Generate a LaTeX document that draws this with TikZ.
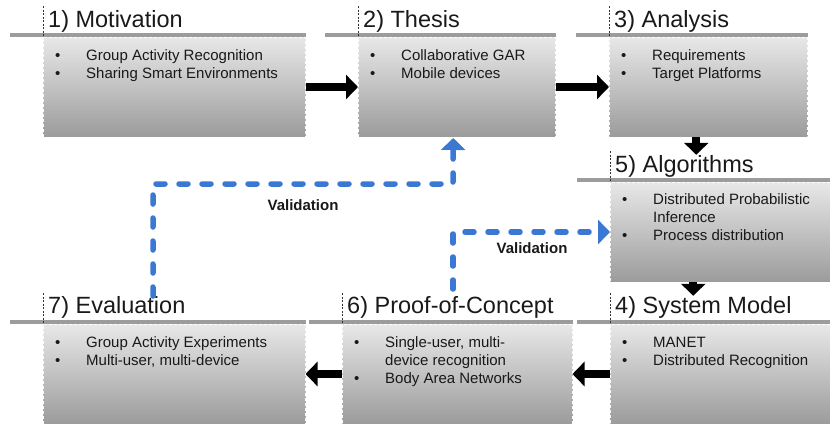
\documentclass[tikz,border=0pt]{standalone}
\usepackage{fontspec}
\setmainfont{Liberation Sans}
\usetikzlibrary{arrows.meta,positioning}
\definecolor{hdrgray}{HTML}{9C9C9C}
\definecolor{valblue}{HTML}{3A78D4}
\newcommand{\titlesize}{\fontsize{23.5}{28}\selectfont}
\newcommand{\listsize}{\fontsize{15}{18}\selectfont}
\newcommand{\blist}[1]{\begin{tabular}[t]{@{}p{31pt}@{}l@{}}#1\end{tabular}}

\begin{document}
\begin{tikzpicture}[x=1pt,y=-1pt,
    stage/.style={anchor=north west, inner sep=0pt, minimum height=99.5pt,
      top color=black!9, bottom color=black!39, draw=white, densely dashed, line width=.5pt},
    heading/.style={anchor=base west, inner sep=0pt, text=black!90, font=\titlesize},
    items/.style={anchor=base west, inner sep=0pt, text=black!90, font=\listsize},
    hdr/.style={hdrgray, line width=4pt},
    tick/.style={black!80, line width=.6pt, dash pattern=on 2pt off 1.5pt},
    blk/.style={black, line width=8pt, -{Triangle[width=24pt,length=12pt]}},
    val/.style={valblue, line width=5.5pt, line cap=round, dash pattern=on 9pt off 14pt,
      -{Triangle[width=24pt,length=12pt]}},
    vlabel/.style={inner sep=1pt, text=black!90, font=\fontsize{15}{18}\selectfont\bfseries}]

  \useasboundingbox (0,0) rectangle (830,424);

  % top row
  \node (motivation) at (43,37) [stage, minimum width=262pt] {};
  \node (thesis) at (358,37) [stage, minimum width=197pt] {};
  \node (analysis) at (609,37) [stage, minimum width=198pt] {};
  % right column
  \node (algorithms) at (610,182) [stage, minimum width=220pt] {};
  % bottom row
  \node (sysmodel) at (610,324) [stage, minimum width=220pt] {};
  \node (proof) at (342,324) [stage, minimum width=230pt] {};
  \node (evaluation) at (43,324) [stage, minimum width=262pt] {};

  \foreach \s in {motivation,thesis,analysis,algorithms,sysmodel,proof,evaluation} {
    \draw[hdr] ([xshift=-33pt,yshift=2pt]\s.north west) -- ([yshift=2pt]\s.north east);
    \draw[tick] ([yshift=31pt]\s.north west) -- (\s.north west);
  }

  \node (motivationT) at (48,27) [heading] {1) Motivation};
  \node (thesisT) at (363,27) [heading] {2) Thesis};
  \node (analysisT) at (614,27) [heading] {3) Analysis};
  \node (algorithmsT) at (615,172) [heading] {5) Algorithms};
  \node (sysmodelT) at (615,313) [heading] {4) System Model};
  \node (proofT) at (347,313) [heading] {6) Proof-of-Concept};
  \node (evaluationT) at (48,313) [heading] {7) Evaluation};

  \node (motivationL) at ([xshift=12pt,yshift=-23pt]motivation.north west) [items]
    {\blist{\textbullet & Group Activity Recognition\\ \textbullet & Sharing Smart Environments}};
  \node (thesisL) at ([xshift=12pt,yshift=-23pt]thesis.north west) [items]
    {\blist{\textbullet & Collaborative GAR\\ \textbullet & Mobile devices}};
  \node (analysisL) at ([xshift=12pt,yshift=-23pt]analysis.north west) [items]
    {\blist{\textbullet & Requirements\\ \textbullet & Target Platforms}};
  \node (algorithmsL) at ([xshift=12pt,yshift=-22pt]algorithms.north west) [items]
    {\blist{\textbullet & Distributed Probabilistic\\ & Inference\\ \textbullet & Process distribution}};
  \node (sysmodelL) at ([xshift=12pt,yshift=-23pt]sysmodel.north west) [items]
    {\blist{\textbullet & MANET\\ \textbullet & Distributed Recognition}};
  \node (proofL) at ([xshift=12pt,yshift=-23pt]proof.north west) [items]
    {\blist{\textbullet & Single-user, multi-\\ & device recognition\\ \textbullet & Body Area Networks}};
  \node (evaluationL) at ([xshift=12pt,yshift=-23pt]evaluation.north west) [items]
    {\blist{\textbullet & Group Activity Experiments\\ \textbullet & Multi-user, multi-device}};

  % process arrows
  \draw[blk] (motivation.east) -- (thesis.west);
  \draw[blk] (thesis.east) -- (analysis.west);
  \draw[blk] ([xshift=-12pt]analysis.south) -- ([xshift=-12pt]analysis.south |- algorithmsT.north);
  \draw[blk] ([xshift=-27pt]algorithms.south) -- ([xshift=-27pt]algorithms.south |- sysmodelT.north);
  \draw[blk] (sysmodel.west) -- (proof.east);
  \draw[blk] (proof.west) -- (evaluation.east);

  % validation loops
  \coordinate (evalstart) at (153,296);
  \coordinate (proofstart) at (453,289);
  \draw[val] (evalstart) |- ++(300,-112) -- ([xshift=-3.5pt,yshift=-1pt]thesis.south);
  \draw[val] (proofstart) |- (algorithms.west);
  \node (val1) at (303,205) [vlabel] {Validation};
  \node (val2) at (532,248) [vlabel] {Validation};
\end{tikzpicture}
\end{document}
